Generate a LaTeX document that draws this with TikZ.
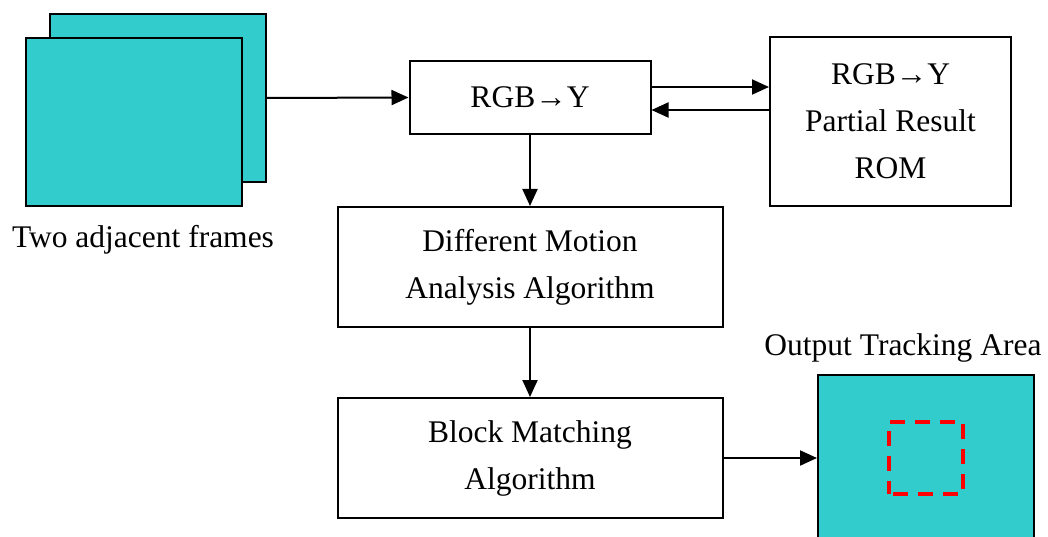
\documentclass[tikz,border=0pt]{standalone}
\usepackage{fontspec}
\setmainfont{Liberation Serif}
\usetikzlibrary{arrows.meta, positioning}
\definecolor{frameteal}{HTML}{33CCCC}

\begin{document}
\begin{tikzpicture}[
    x=1pt, y=-1pt,
    node distance = 10pt and 10pt,
    punkt/.style = {rectangle, draw, line width=2pt, align=center, inner sep=0pt},
    frm/.style = {punkt, fill=frameteal},
    pil/.style = {black, line width=2pt, -{Triangle[length=17pt,width=15pt]}},
    font=\fontsize{31.5}{47}\selectfont
    ]
  \useasboundingbox (0,0) rectangle (1048,537);

  \node[frm, minimum width=216pt, minimum height=168pt] (back) at (158,98) {} ;
  \node[frm, minimum width=216pt, minimum height=168pt] (front) at (134,122) {} ;
  \node[] (frameslbl) at (143,240) {Two adjacent frames} ;

  \node[punkt, minimum width=241pt, minimum height=73pt] (rgb) at (530,97.5) {RGB→Y} ;
  \node[punkt, minimum width=241pt, minimum height=169pt] (rom) at (890.5,121.5) {RGB→Y\\Partial Result\\ROM} ;
  \node[punkt, minimum width=385pt, minimum height=120pt] (dma) at (530,267) {Different Motion\\Analysis Algorithm} ;
  \node[punkt, minimum width=385pt, minimum height=120pt] (bma) at (530,458) {Block Matching\\Algorithm} ;

  \node[frm, minimum width=216pt, minimum height=190pt, anchor=north] (out) at (926,374) {} ;
  \node[] (outlbl) at (903,348) {Output Tracking Area} ;
  \node[draw=red, line width=3.5pt, dash pattern=on 15pt off 10pt, dash phase=-4pt,
        minimum width=74pt, minimum height=72pt] (area) at (926,458) {} ;

  \draw[pil]
  (back.east) -- (rgb.west) ;
  \draw[pil] ([yshift=10.5pt]rgb.east) -- ([yshift=10.5pt]rgb.east -| rom.west) ;
  \draw[pil] ([yshift=-12.5pt]rgb.east -| rom.west) -- ([yshift=-12.5pt]rgb.east) ;
  \draw[pil] (rgb) -- (dma) ;
  \draw[pil] (dma) -- (bma) ;
  \draw[pil] (bma.east) -- (bma.east -| out.west) ;
\end{tikzpicture}
\end{document}
